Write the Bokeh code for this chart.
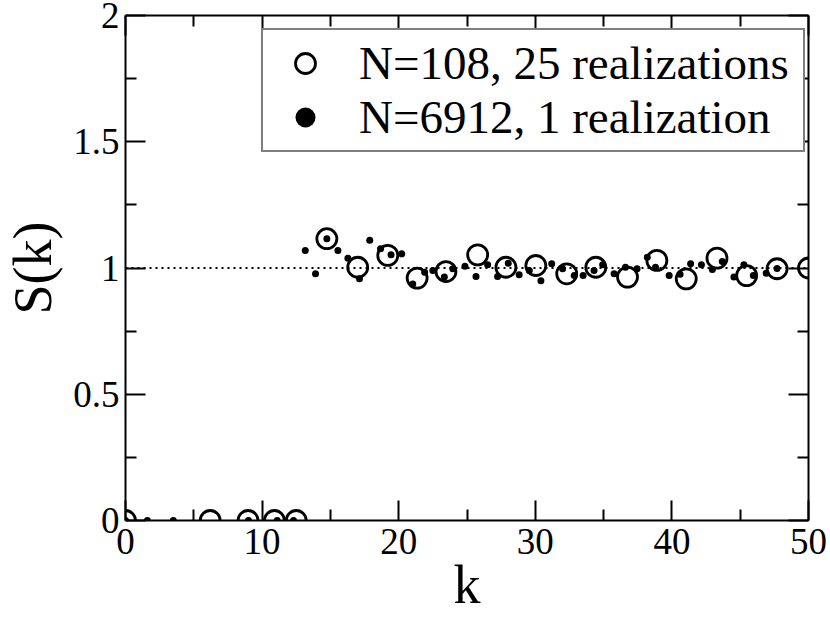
import math
from bokeh.plotting import figure
from bokeh.models import (Range1d, LinearAxis, FixedTicker, Legend, LegendItem,
                          CustomJSTickFormatter)
from bokeh.embed import file_html
from bokeh.resources import INLINE

# ---- data ----
k_108 = [0.0, 6.2, 8.97, 10.9, 12.5, 14.74, 17.0, 19.2, 21.35, 23.46, 25.78,
         27.85, 30.04, 32.3, 34.43, 36.75, 38.9, 41.05, 43.3, 45.47, 47.7, 50.0]
s_108 = [0.0, 0.0, 0.0, 0.0, 0.0, 1.116, 1.003, 1.05, 0.96, 0.986, 1.052,
         1.003, 1.01, 0.977, 1.003, 0.964, 1.03, 0.957, 1.039, 0.97, 0.997, 1.0]

k_6912 = [0.0, 1.6, 3.5, 9.0, 11.1, 12.3,
          13.16, 13.91, 14.74, 15.55, 16.28, 17.13, 17.88, 18.67, 19.44, 20.22,
          21.03, 21.9, 22.5, 23.34, 23.96, 24.85, 25.66, 26.51, 27.24, 28.02,
          28.82, 29.56, 30.41, 31.2, 32.0, 32.85, 33.5, 34.3, 34.93, 35.77,
          36.6, 37.45, 38.2, 38.8, 39.8, 40.6, 41.37, 42.16, 42.96, 43.69,
          44.54, 45.27, 45.96, 46.9, 47.7]
s_6912 = [0.0, 0.0, 0.0, 0.0, 0.0, 0.0,
          1.069, 0.977, 1.116, 1.069, 1.039, 0.957, 1.11, 1.076, 1.052, 1.056,
          0.937, 0.983, 0.99, 0.964, 0.997, 1.007, 0.966, 1.013, 0.966, 1.019,
          0.973, 0.99, 0.95, 1.017, 0.997, 0.97, 0.97, 0.99, 1.013, 0.977,
          1.003, 0.997, 1.043, 1.003, 0.97, 0.975, 1.017, 1.013, 0.994, 1.026,
          0.964, 1.013, 0.97, 0.979, 0.998]

ref_k = [0, 50]
ref_s = [1, 1]

x_ticks = [0, 10, 20, 30, 40, 50]
x_minor = [5, 15, 25, 35, 45]
y_ticks = [0, 0.5, 1, 1.5, 2]
y_minor = [0.25, 0.75, 1.25, 1.75]

label_108 = "N=108, 25 realizations"
label_6912 = "N=6912, 1 realization"
x_title = "k"
y_title = "S(k)"

FONT = "Liberation Serif"

p = figure(width=830, height=618, x_range=Range1d(0, 50), y_range=Range1d(0, 2),
           output_backend="svg", toolbar_location=None,
           min_border_left=124, min_border_right=22, min_border_top=15,
           min_border_bottom=98)
p.grid.visible = False
p.outline_line_color = None
p.background_fill_color = "white"

fmt = CustomJSTickFormatter(code="return tick.toString()")


def style(ax, ticks, minor, show_labels):
    ax.ticker = FixedTicker(ticks=ticks, minor_ticks=minor)
    ax.formatter = fmt
    ax.axis_line_width = 2
    ax.axis_line_color = "black"
    ax.major_tick_in = 20
    ax.major_tick_out = 0
    ax.minor_tick_in = 11
    ax.minor_tick_out = 0
    ax.major_tick_line_width = 2
    ax.minor_tick_line_width = 2
    ax.major_tick_line_color = "black"
    ax.minor_tick_line_color = "black"
    ax.major_label_text_font = FONT
    ax.major_label_text_color = "black"
    if show_labels:
        ax.major_label_text_font_size = "37px"
    else:
        ax.major_label_text_font_size = "0px"
        ax.major_label_standoff = 0


def title_style(ax, text, standoff):
    ax.axis_label = text
    ax.axis_label_text_font = FONT
    ax.axis_label_text_font_size = "54px"
    ax.axis_label_text_font_style = "normal"
    ax.axis_label_text_color = "black"
    ax.axis_label_standoff = standoff


style(p.xaxis[0], x_ticks, x_minor, True)
p.xaxis[0].major_label_standoff = 8
title_style(p.xaxis[0], x_title, -2)

style(p.yaxis[0], y_ticks, y_minor, True)
p.yaxis[0].major_label_standoff = 6
title_style(p.yaxis[0], y_title, 7)

top = LinearAxis()
style(top, x_ticks, x_minor, False)
p.add_layout(top, "above")
right = LinearAxis()
style(right, y_ticks, y_minor, False)
p.add_layout(right, "right")

p.line(ref_k, ref_s, line_color="black", line_width=2, line_dash="2 4")

r_circ = p.scatter(k_108, s_108, marker="circle", size=20, fill_color=None,
                   line_color="black", line_width=2.8)
r_dot = p.scatter(k_6912, s_6912, marker="circle", size=7, fill_color="black",
                  line_color="black", line_width=0)

legend = Legend(items=[LegendItem(label=label_108, renderers=[r_circ]),
                       LegendItem(label=label_6912, renderers=[r_dot])],
                location=(136, 368))
legend.label_text_font = FONT
legend.label_text_font_size = "47px"
legend.label_text_color = "black"
legend.label_standoff = 18
legend.glyph_width = 72
legend.glyph_height = 50
legend.label_height = 50
legend.label_width = 438
legend.padding = 6
legend.spacing = 0
legend.margin = 0
legend.border_line_color = "black"
legend.border_line_width = 2
legend.background_fill_color = "white"
legend.background_fill_alpha = 1
p.add_layout(legend)

open("out.html", "w").write(file_html(p, INLINE))
